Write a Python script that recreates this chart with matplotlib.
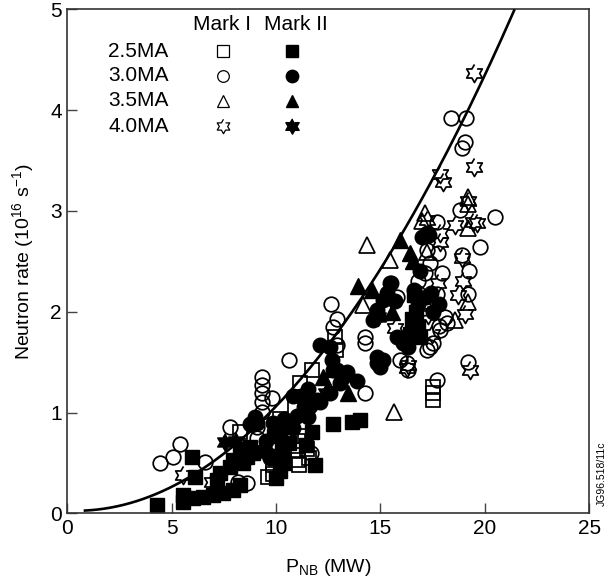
import numpy as np
import matplotlib

matplotlib.use("Agg")
import matplotlib.pyplot as plt  # noqa: E402

plt.rcParams["font.family"] = ["Liberation Sans", "DejaVu Sans"]
plt.rcParams["mathtext.default"] = "regular"

# --- data (P_NB in MW, neutron rate in 1e16 /s) ---
# Mark I, 2.5 MA (open squares)
m1_25_x = [8.26, 11.70, 11.14, 12.8, 12.85, 10.9, 9.85, 9.85, 11.07, 11.07, 11.07,
           11.1, 11.5, 17.53, 17.53, 17.53, 10.7, 10.2, 9.63, 11.4, 11.6]
m1_25_y = [0.81, 1.42, 1.29, 1.75, 1.62, 1.03, 0.39, 0.48, 0.72, 0.625, 0.53,
           0.48, 0.64, 1.256, 1.19, 1.12, 0.86, 0.94, 0.36, 0.77, 0.55]
# Mark II, 2.5 MA (filled squares)
m2_25_x = [4.28, 5.96, 6.12, 5.56, 5.56, 6.03, 6.51, 6.99, 7.47, 7.95, 8.27, 7.15,
           7.31, 7.79, 7.95, 8.43, 8.59, 8.75, 8.27, 8.91, 12.74, 13.62, 14.02, 11.86,
           10.2, 10.4, 9.85, 9.9, 10.6, 11.73, 11.45, 10.0, 10.3, 10.1, 16.6, 16.7,
           16.8, 16.9, 16.5, 16.4, 16.2]
m2_25_y = [0.08, 0.56, 0.36, 0.18, 0.115, 0.15, 0.165, 0.18, 0.20, 0.23, 0.28, 0.33,
           0.40, 0.46, 0.53, 0.50, 0.56, 0.66, 0.60, 0.60, 0.89, 0.91, 0.925, 0.48,
           0.42, 0.50, 0.57, 0.77, 0.70, 0.81, 0.68, 0.35, 0.62, 0.88, 2.17, 2.0,
           1.85, 1.75, 1.93, 1.78, 1.70]
# Mark I, 3.0 MA (open circles)
m1_30_x = [4.44, 5.08, 5.40, 6.59, 7.80, 8.59, 8.2, 9.1, 9.31, 9.31, 9.31, 9.31, 9.31,
           9.79, 9.1, 10.63, 11.67, 12.63, 12.9, 12.9, 12.74, 14.26, 14.26, 14.26,
           15.8, 15.93, 16.25, 16.3, 16.8, 16.8, 17.21, 17.37, 17.69, 17.8, 17.85,
           18.17, 17.13, 17.37, 17.69, 17.77, 17.93, 17.69, 18.09, 18.4, 19.1, 18.9,
           19.05, 18.81, 18.89, 19.25, 19.2, 19.2, 19.77, 20.48, 17.53, 17.21, 17.1]
m1_30_y = [0.496, 0.56, 0.69, 0.51, 0.86, 0.30, 0.31, 0.86, 1.355, 1.27, 1.19, 1.10,
           1.01, 1.14, 0.75, 1.52, 0.60, 2.08, 1.93, 1.67, 1.85, 1.19, 1.75, 1.69,
           2.15, 1.52, 1.49, 1.42, 2.19, 2.30, 1.62, 1.65, 1.32, 1.86, 1.82, 1.885,
           2.38, 2.48, 2.89, 2.58, 2.38, 2.18, 1.95, 3.92, 3.92, 3.62, 3.68, 3.01,
           2.56, 2.40, 2.18, 1.50, 2.645, 2.94, 1.69, 2.61, 2.04]
# Mark II, 3.0 MA (filled circles)
m2_30_x = [12.1, 12.66, 12.58, 12.74, 13.38, 13.86, 13.06, 12.57, 11.55, 11.2, 11.36,
           11.0, 12.1, 11.55, 10.82, 11.3, 11.95, 11.62, 14.82, 15.13, 14.82, 15.0,
           16.09, 15.78, 15.45, 15.13, 14.82, 14.66, 15.3, 15.5, 15.7, 16.3, 16.6,
           16.8, 17.0, 17.3, 17.21, 17.17, 17.4, 17.8, 8.73, 9.5, 9.85, 10.4, 9.5,
           9.1, 8.75, 8.99, 12.9, 13.22, 9.7, 10.2, 10.8, 17.5, 16.9]
m2_30_y = [1.67, 1.52, 1.65, 1.42, 1.405, 1.31, 1.29, 1.19, 1.23, 1.16, 1.05, 0.97,
           1.10, 0.96, 1.16, 1.13, 1.12, 1.06, 1.55, 1.52, 1.49, 1.45, 1.69, 1.75,
           2.28, 2.12, 2.02, 1.92, 2.19, 2.28, 2.11, 1.65, 2.22, 2.08, 2.74, 2.76,
           2.78, 2.15, 2.19, 2.08, 0.61, 0.61, 0.90, 0.94, 0.72, 0.90, 0.89, 0.96,
           1.42, 1.355, 0.55, 0.78, 0.85, 2.0, 2.4]
# Mark I, 3.5 MA (open triangles)
m1_35_x = [14.34, 15.45, 14.18, 15.63, 17.13, 19.2, 19.2, 19.2, 19.2, 18.57, 17.25, 17.0]
m1_35_y = [2.66, 2.51, 2.07, 1.01, 2.98, 3.14, 3.07, 2.83, 2.10, 1.92, 2.59, 2.9]
# Mark II, 3.5 MA (filled triangles)
m2_35_x = [15.93, 16.41, 16.55, 13.94, 14.58, 15.53, 15.0, 13.46, 12.26, 12.7]
m2_35_y = [2.71, 2.58, 2.50, 2.26, 2.215, 2.0, 2.0, 1.19, 1.355, 1.43]
# Mark I, 4.0 MA (open stars)
m1_40_x = [19.48, 19.48, 17.87, 18.01, 18.57, 19.44, 19.6, 17.85, 17.85, 18.89, 18.97,
           18.73, 19.05, 19.29, 16.33, 5.56, 6.92, 17.77, 17.36, 17.27, 17.45, 15.7,
           17.21, 19.2, 16.25]
m1_40_y = [4.37, 3.44, 3.37, 3.29, 2.86, 2.89, 2.88, 2.78, 2.69, 2.53, 2.30, 2.17,
           1.98, 1.42, 1.47, 0.38, 0.31, 2.28, 2.08, 1.97, 1.78, 1.84, 2.91, 3.10, 1.44]
# Mark II, 4.0 MA (filled stars)
m2_40_x = [7.55, 8.07, 12.4, 14.9]
m2_40_y = [0.71, 0.72, 1.19, 1.95]

# fitted curve: y = A*x^2 + B*x + C, drawn from x = 0.85 to 21.4
fit_coef = [0.01126, -0.0091, 0.027]
fit_range = (0.85, 21.4)

currents = ["2.5MA", "3.0MA", "3.5MA", "4.0MA"]

# six-pointed star marker (hexagram)
ang = np.deg2rad(90 + 30 * np.arange(12))
rad = np.where(np.arange(12) % 2 == 0, 1.0, 1 / np.sqrt(3))
hexagram = list(zip(rad * np.cos(ang), rad * np.sin(ang)))

markers = ["s", "o", "^", hexagram]
sizes = [10.5, 10.5, 11, 13]
groups = [
    (m1_25_x, m1_25_y, m2_25_x, m2_25_y),
    (m1_30_x, m1_30_y, m2_30_x, m2_30_y),
    (m1_35_x, m1_35_y, m2_35_x, m2_35_y),
    (m1_40_x, m1_40_y, m2_40_x, m2_40_y),
]

fig = plt.figure(figsize=(6.11, 5.82), dpi=100)
ax = fig.add_axes([0.110, 0.118, 0.8545, 0.866])

for (x1, y1, x2, y2), mk, ms in zip(groups, markers, sizes):
    ax.plot(x1, y1, linestyle="none", marker=mk, ms=ms, mfc="none",
            mec="black", mew=1.25, zorder=3)
    ax.plot(x2, y2, linestyle="none", marker=mk, ms=ms, mfc="black",
            mec="black", mew=1.0, zorder=2)

xf = np.linspace(fit_range[0], fit_range[1], 200)
ax.plot(xf, np.polyval(fit_coef, xf), color="black", lw=1.9, zorder=4)

# legend drawn as a small table
ax.text(7.41, 4.85, "Mark I", ha="center", va="center", fontsize=15)
ax.text(10.97, 4.85, "Mark II", ha="center", va="center", fontsize=15)
row_y = [4.586, 4.339, 4.092, 3.842]
for lab, yy, mk, ms in zip(currents, row_y, markers, sizes):
    ax.text(1.97, yy, lab, ha="left", va="center", fontsize=15)
    ax.plot([7.45], [yy], marker=mk, ms=ms * 0.8, mfc="none", mec="black",
            mew=0.9, linestyle="none")
    ax.plot([10.75], [yy], marker=mk, ms=ms * 0.85, mfc="black", mec="black",
            linestyle="none")

ax.set_xlim(0, 25)
ax.set_ylim(0, 5)
ax.set_xticks([0, 5, 10, 15, 20, 25])
ax.set_yticks([0, 1, 2, 3, 4, 5])
ax.tick_params(direction="in", length=7, width=1.0, labelsize=15, pad=4,
               top=False, right=False, color="#444444")
for sp in ax.spines.values():
    sp.set_color("#333333")
    sp.set_linewidth(1.2)

ax.set_xlabel("P$_{NB}$ (MW)", fontsize=14, labelpad=14)
ax.set_ylabel("Neutron rate (10$^{16}$ s$^{-1}$)", fontsize=14, labelpad=10)

fig.text(0.985, 0.186, "JG96.518/11c", rotation=90, ha="center", va="center",
         fontsize=7.5)

fig.savefig("out.png", dpi=100)
